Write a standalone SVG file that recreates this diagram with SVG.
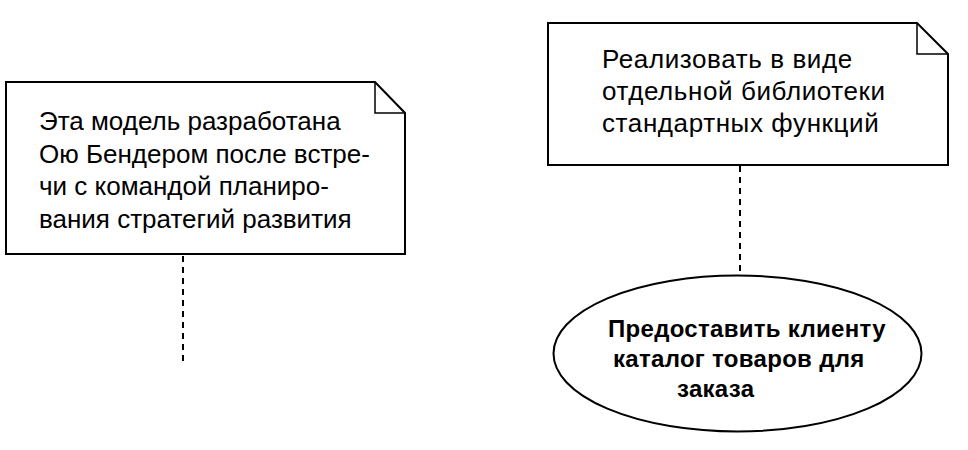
<svg xmlns="http://www.w3.org/2000/svg" width="968" height="450" viewBox="0 0 968 450">
<style>
.note{fill:#fff;stroke:#000;stroke-width:2}
.fold{fill:none;stroke:#000;stroke-width:1.5}
.nt{font-family:"Liberation Sans",Arial,sans-serif;font-size:26px;fill:#000}
.ut{font-family:"Liberation Sans",Arial,sans-serif;font-size:24px;font-weight:bold;fill:#000;letter-spacing:0.3px}
.dash{stroke:#000;stroke-width:2;stroke-dasharray:6 5;fill:none}
</style>
<rect width="968" height="450" fill="#fff"/>
<g id="connectors">
<line class="dash" x1="183" y1="256" x2="183" y2="366"/>
<line class="dash" x1="740" y1="166" x2="740" y2="275"/>
</g>
<g id="note1">
<path class="note" d="M6 82 H375 L405 113 V254 H6 Z"/>
<path class="fold" d="M375 82 V113 H405"/>
<text class="nt" x="39" y="130">Эта модель разработана</text>
<text class="nt" x="39" y="163">Ою Бендером после встре-</text>
<text class="nt" x="39" y="195">чи с командой планиро-</text>
<text class="nt" x="39" y="228">вания стратегий развития</text>
</g>
<g id="note2">
<path class="note" d="M548 23 H917 L948 54 V165 H548 Z"/>
<path class="fold" d="M917 23 V54 H948"/>
<text class="nt" x="602" y="68" style="letter-spacing:0.6px">Реализовать в виде</text>
<text class="nt" x="602" y="100" style="letter-spacing:0.6px">отдельной библиотеки</text>
<text class="nt" x="602" y="132" style="letter-spacing:0.6px">стандартных функций</text>
</g>
<g id="usecase">
<ellipse class="note" cx="737.5" cy="353.5" rx="184" ry="78"/>
<text class="ut" x="608" y="337">Предоставить клиенту</text>
<text class="ut" x="613" y="367">каталог товаров для</text>
<text class="ut" x="677" y="397">заказа</text>
</g>
</svg>
